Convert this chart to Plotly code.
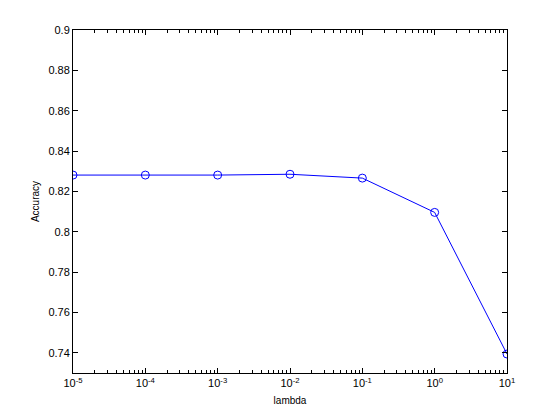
import plotly.graph_objects as go

lambdas = [1e-5, 1e-4, 1e-3, 1e-2, 1e-1, 1e0, 1e1]
accuracy = [0.8281, 0.8281, 0.8281, 0.8285, 0.8266, 0.8096, 0.7394]

xtick_vals = [1e-5, 1e-4, 1e-3, 1e-2, 1e-1, 1e0, 1e1]
xtick_text = ["10<sup>-5</sup>", "10<sup>-4</sup>", "10<sup>-3</sup>", "10<sup>-2</sup>",
              "10<sup>-1</sup>", "10<sup>0</sup>", "10<sup>1</sup>"]
ytick_vals = [0.74, 0.76, 0.78, 0.80, 0.82, 0.84, 0.86, 0.88, 0.90]
ytick_text = ["0.74", "0.76", "0.78", "0.8", "0.82", "0.84", "0.86", "0.88", "0.9"]

fig = go.Figure()
fig.add_trace(go.Scatter(
    x=lambdas, y=accuracy, mode="lines+markers",
    line=dict(color="rgb(0,0,255)", width=1),
    marker=dict(symbol="circle-open", size=8, color="rgb(0,0,255)", line=dict(width=1)),
    showlegend=False,
))

font = dict(family="Liberation Sans, Arial, Helvetica, sans-serif", size=10, color="black")
fig.update_layout(
    width=552, height=412,
    margin=dict(l=65, r=53, t=22, b=47),
    paper_bgcolor="white", plot_bgcolor="white",
    font=font,
    xaxis=dict(
        type="log", range=[-5, 1],
        tickvals=xtick_vals, ticktext=xtick_text,
        ticks="inside", ticklen=5, tickcolor="black", tickwidth=1,
        showline=True, linecolor="black", linewidth=1, mirror="allticks",
        showgrid=False, zeroline=False,
        minor=dict(ticks="inside", ticklen=3, tickcolor="black", dtick="D1", showgrid=False),
        title=dict(text="lambda", standoff=8, font=font),
        tickfont=dict(size=11),
    ),
    yaxis=dict(
        range=[0.73, 0.9],
        tickvals=ytick_vals, ticktext=ytick_text,
        ticks="inside", ticklen=5, tickcolor="black", tickwidth=1,
        showline=True, linecolor="black", linewidth=1, mirror="allticks",
        showgrid=False, zeroline=False,
        title=dict(text="Accuracy", standoff=6, font=font),
        tickfont=dict(size=11),
    ),
)

fig.write_html("out.html")
